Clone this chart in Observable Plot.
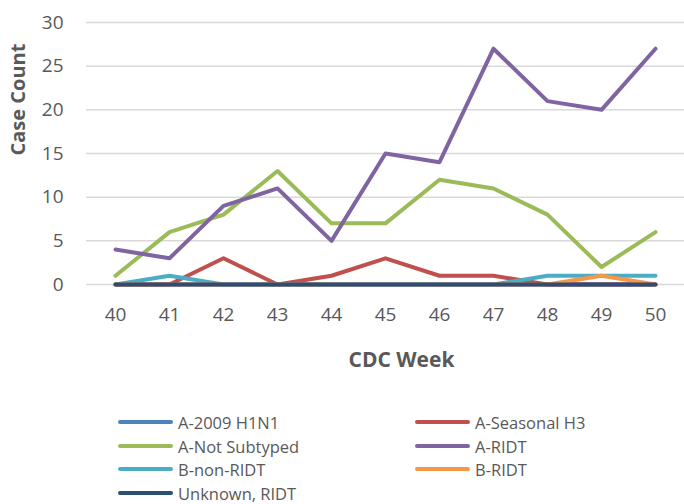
<!DOCTYPE html>
<html>
<head>
<meta charset="utf-8">
<script src="https://cdn.jsdelivr.net/npm/d3@7"></script>
<script src="https://cdn.jsdelivr.net/npm/@observablehq/plot@0.6"></script>
<style>
  body { margin: 0; background: #fff; font-family: "Open Sans", sans-serif; }
  #wrap { position: relative; width: 684px; height: 504px; overflow: hidden; }
  #legend { position: absolute; left: 0; top: 390px; width: 684px; height: 114px; }
  .item { position: absolute; display: flex; align-items: center; height: 20px; font-size: 16.5px; color: #595959; white-space: nowrap; }
  .swatch { width: 55px; height: 4px; border-radius: 2px; margin-right: 5px; }
</style>
</head>
<body>
<div id="wrap"></div>
<script>
const weeks = [40, 41, 42, 43, 44, 45, 46, 47, 48, 49, 50];
const seriesNames = ["A-2009 H1N1", "A-Seasonal H3", "A-Not Subtyped", "A-RIDT", "B-non-RIDT", "B-RIDT", "Unknown, RIDT"];
const seriesColors = ["#4F81BD", "#C0504D", "#9BBB59", "#8064A2", "#4BACC6", "#F79646", "#2C4D75"];
const h1n1         = [0, 0, 0, 0, 0, 0, 0, 0, 0, 0, 0];
const seasonalH3   = [0, 0, 3, 0, 1, 3, 1, 1, 0, 0, 0];
const notSubtyped  = [1, 6, 8, 13, 7, 7, 12, 11, 8, 2, 6];
const aRIDT        = [4, 3, 9, 11, 5, 15, 14, 27, 21, 20, 27];
const bNonRIDT     = [0, 1, 0, 0, 0, 0, 0, 0, 1, 1, 1];
const bRIDT        = [0, 0, 0, 0, 0, 0, 0, 0, 0, 1, 0];
const unknownRIDT  = [0, 0, 0, 0, 0, 0, 0, 0, 0, 0, 0];
const yTicks = [0, 5, 10, 15, 20, 25, 30];

const allSeries = [h1n1, seasonalH3, notSubtyped, aRIDT, bNonRIDT, bRIDT, unknownRIDT];
const data = [];
allSeries.forEach((vals, i) => {
  vals.forEach((v, j) => data.push({series: seriesNames[i], week: weeks[j], value: v}));
});

const chart = Plot.plot({
  width: 684,
  height: 390,
  marginLeft: 86,
  marginRight: 0,
  marginTop: 22,
  marginBottom: 106,
  style: {fontFamily: "Open Sans, sans-serif", fontSize: "18px", color: "#595959", background: "#fff"},
  x: {type: "point", domain: weeks, padding: 0.47, label: null},
  y: {domain: [0, 30], label: null},
  color: {domain: seriesNames, range: seriesColors},
  marks: [
    Plot.ruleY(yTicks, {stroke: "#D9D9D9", strokeWidth: 1.5}),
    Plot.axisY(yTicks, {tickSize: 0, tickPadding: 23, fontSize: 19, fill: "#595959"}),
    Plot.axisX(weeks, {tickSize: 0, tickPadding: 23, fontSize: 19, fill: "#595959"}),
    Plot.lineY(data, {x: "week", y: "value", z: "series", stroke: "series", strokeWidth: 4, strokeLinecap: "round", strokeLinejoin: "round"}),
    Plot.text(["CDC Week"], {frameAnchor: "bottom", dx: 16, dy: 82, fontSize: 21, fontWeight: "bold", fill: "#595959"}),
    Plot.text(["Case Count"], {frameAnchor: "left", dx: -68, dy: 2, rotate: -90, fontSize: 20, fontWeight: "bold", fill: "#595959"})
  ]
});
const wrap = document.getElementById("wrap");
wrap.appendChild(chart);

const legend = document.createElement("div");
legend.id = "legend";
const pos = [[118, 32], [415, 32], [118, 56], [415, 56], [118, 79], [415, 79], [118, 103]];
seriesNames.forEach((name, i) => {
  const it = document.createElement("div");
  it.className = "item";
  it.style.left = pos[i][0] + "px";
  it.style.top = (pos[i][1] - 10) + "px";
  const sw = document.createElement("div");
  sw.className = "swatch";
  sw.style.background = seriesColors[i];
  it.appendChild(sw);
  it.appendChild(document.createTextNode(name));
  legend.appendChild(it);
});
wrap.appendChild(legend);
</script>
</body>
</html>
